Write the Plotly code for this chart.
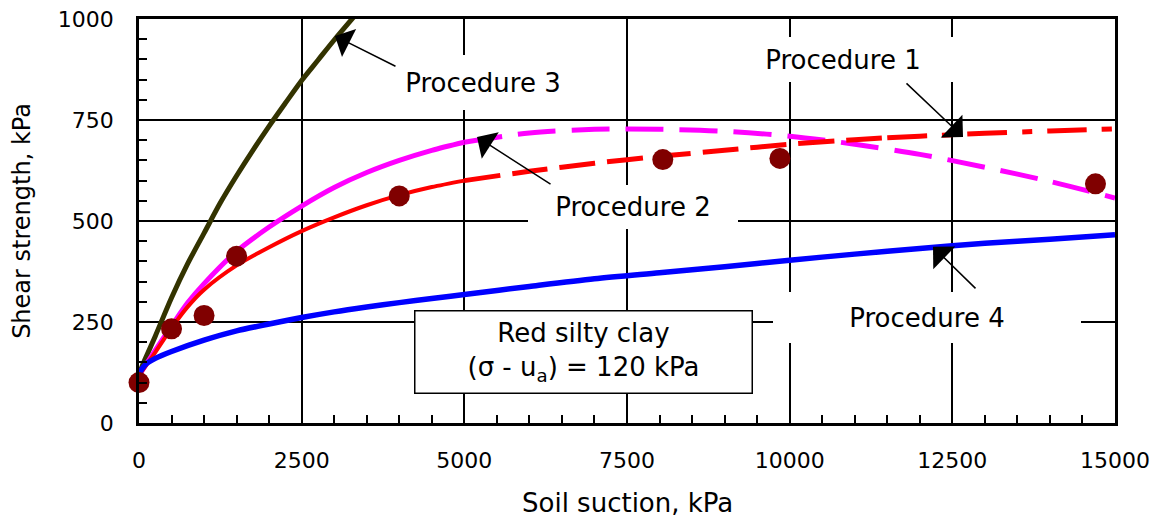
import plotly.graph_objects as go

# ---------------- data ----------------
p3_x = [0, 100, 250, 500, 750, 1000, 1250, 1500, 1750, 2000, 2250, 2500, 2750, 3000, 3300]
p3_y = [122, 160, 215, 310, 395, 470, 545, 612, 675, 735, 792, 848, 898, 948, 1005]

p2_x = [0, 250, 500, 750, 1000, 1500, 2000, 2500, 3000, 3500, 4000, 4500, 5000,
        6000, 7000, 8000, 9000, 10000, 11000, 12000, 13000, 14000, 15000]
p2_y = [118, 180, 240, 298, 345, 425, 485, 537, 583, 620, 650, 675, 695,
        718, 727, 727, 722, 710, 690, 665, 633, 598, 557]

p1_x = [0, 250, 500, 750, 1000, 1500, 2000, 2500, 3000, 3500, 4000, 4500, 5000,
        6000, 7000, 8000, 9000, 10000, 11000, 11500, 12000, 13000, 14000, 15000]
p1_y = [118, 175, 235, 288, 330, 390, 435, 475, 509, 539, 564, 584, 600,
        623, 643, 660, 675, 690, 701, 706, 710, 717, 723, 728]

p4_x = [0, 100, 250, 500, 1000, 1500, 2000, 2500, 3000, 3500, 4000, 4500, 5000,
        6000, 7000, 8000, 9000, 10000, 11000, 12000, 13000, 14000, 15000]
p4_y = [122, 145, 160, 177, 205, 228, 245, 261, 275, 287, 298, 308, 318,
        338, 357, 372, 387, 403, 418, 432, 445, 455, 466]

meas_x = [0, 500, 1000, 1500, 4000, 8050, 9850, 14700]
meas_y = [100, 233, 266, 413, 562, 652, 655, 592]

x_ticks = [0, 2500, 5000, 7500, 10000, 12500, 15000]
y_ticks = [0, 250, 500, 750, 1000]

FONT = "DejaVu Sans"
SM = 0.8

fig = go.Figure()

# Procedure 3
fig.add_trace(go.Scatter(x=p3_x, y=p3_y, mode="lines",
                         line=dict(color="#333300", width=5, shape="spline", smoothing=SM),
                         showlegend=False))
# Procedure 2: solid then dashed
i2 = p2_x.index(5000)
fig.add_trace(go.Scatter(x=p2_x[:i2 + 1], y=p2_y[:i2 + 1], mode="lines",
                         line=dict(color="#FF00FF", width=5, shape="spline", smoothing=SM),
                         showlegend=False))
fig.add_trace(go.Scatter(x=p2_x[i2:], y=p2_y[i2:], mode="lines",
                         line=dict(color="#FF00FF", width=5, dash="38px,16px",
                                   shape="spline", smoothing=SM),
                         showlegend=False))
# Procedure 1: solid, dashed, dash-dot
a1 = p1_x.index(5000)
b1 = p1_x.index(11500)
fig.add_trace(go.Scatter(x=p1_x[:a1 + 1], y=p1_y[:a1 + 1], mode="lines",
                         line=dict(color="#FF0000", width=4, shape="spline", smoothing=SM),
                         showlegend=False))
fig.add_trace(go.Scatter(x=p1_x[a1:b1 + 1], y=p1_y[a1:b1 + 1], mode="lines",
                         line=dict(color="#FF0000", width=5, dash="36px,12px",
                                   shape="spline", smoothing=SM),
                         showlegend=False))
fig.add_trace(go.Scatter(x=p1_x[b1:], y=p1_y[b1:], mode="lines",
                         line=dict(color="#FF0000", width=5, dash="40px,15px,10px,15px",
                                   shape="spline", smoothing=SM),
                         showlegend=False))
# Procedure 4
fig.add_trace(go.Scatter(x=p4_x, y=p4_y, mode="lines",
                         line=dict(color="#0000FF", width=5.5, shape="spline", smoothing=SM),
                         showlegend=False))
# measured
fig.add_trace(go.Scatter(x=meas_x, y=meas_y, mode="markers",
                         marker=dict(color="#800000", size=21, symbol="circle"),
                         showlegend=False, cliponaxis=False))

# label boxes (white background hides grid lines)
labels = [
    ("Procedure 3", 5287, 844, 172, 55),
    ("Procedure 1", 10820, 899, 232, 45),
    ("Procedure 2", 7592, 535, 210, 44),
    ("Procedure 4", 12110, 260, 308, 51),
]
for txt, lx, ly, w, h in labels:
    fig.add_annotation(x=lx, y=ly, xref="x", yref="y", text=txt, showarrow=False,
                       font=dict(family=FONT, size=26, color="black"),
                       bgcolor="white", width=w, height=h, borderpad=0, borderwidth=0)

# arrows
arrows = [
    (3012, 958, 62, 31),
    (12664, 708, -58, -55),
    (5195, 708, 75, 48),
    (12203, 436, 44, 43),
]
for hx, hy, axp, ayp in arrows:
    fig.add_annotation(x=hx, y=hy, xref="x", yref="y", text=" ", showarrow=True,
                       font=dict(size=1),
                       ax=axp, ay=ayp, arrowhead=1, arrowsize=3.5, arrowwidth=1.5,
                       arrowcolor="black", standoff=0)

# info box
fig.add_annotation(x=6824, y=176, xref="x", yref="y",
                   text="Red silty clay<br>(σ - u<sub>a</sub>) = 120 kPa",
                   showarrow=False, font=dict(family=FONT, size=26, color="black"),
                   bgcolor="white", bordercolor="black", borderwidth=1.5,
                   width=336, height=81, borderpad=0)

# x-axis title placed below the tick labels
fig.add_annotation(x=0.5, y=0, xref="paper", yref="paper", yshift=-80,
                   xanchor="center", yanchor="middle", showarrow=False,
                   text="Soil suction, kPa",
                   font=dict(family=FONT, size=26, color="black"))

axis_common = dict(
    showgrid=True, gridcolor="black", gridwidth=1.5,
    showline=True, linecolor="black", linewidth=2.5, mirror=True,
    ticks="inside", ticklen=8, tickwidth=2, tickcolor="black",
    zeroline=False, automargin=False, ticklabeloverflow="allow",
    tickfont=dict(family=FONT, size=22, color="black"),
)

fig.update_xaxes(range=[0, 15000], tickvals=x_ticks, ticktext=[str(v) for v in x_ticks],
                 minor=dict(dtick=500, ticks="inside", ticklen=8, tickwidth=2,
                            tickcolor="black", showgrid=False),
                 ticklabelstandoff=16,
                 **axis_common)
fig.update_yaxes(range=[0, 1000], tickvals=y_ticks, ticktext=[str(v) for v in y_ticks],
                 minor=dict(dtick=50, ticks="inside", ticklen=8, tickwidth=2,
                            tickcolor="black", showgrid=False),
                 ticklabelstandoff=18,
                 title=dict(text="Shear strength, kPa", standoff=23,
                            font=dict(family=FONT, size=24, color="black")),
                 **axis_common)

fig.update_layout(
    width=1145, height=513,
    margin=dict(l=131, r=38, t=11, b=98),
    paper_bgcolor="white", plot_bgcolor="white",
    font=dict(family=FONT, color="black"),
)

fig.write_html("out.html",
               post_script="document.documentElement.style.overflow='hidden';"
                           "document.body.style.overflow='hidden';")
